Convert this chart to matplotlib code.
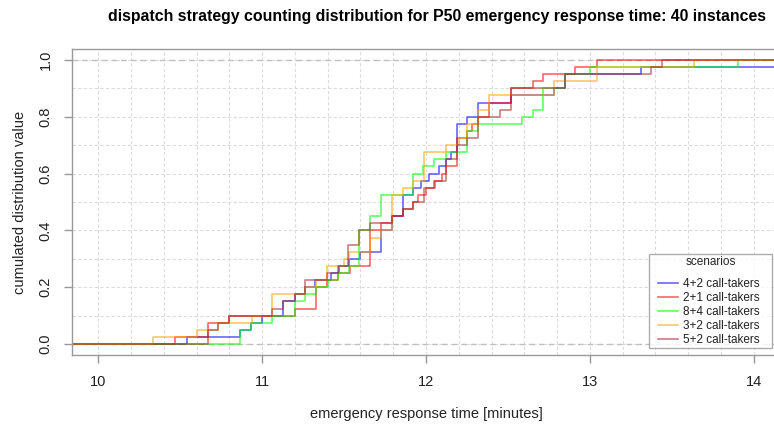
import numpy as np
import matplotlib.pyplot as plt
from matplotlib.legend_handler import HandlerLine2D
from matplotlib.lines import Line2D

plt.rcParams['font.family'] = ['Liberation Sans', 'DejaVu Sans']

########## P50 response times per instance (minutes) ##########

scenarios = ['4+2 call-takers', '2+1 call-takers', '8+4 call-takers',
             '3+2 call-takers', '5+2 call-takers']
colors = ['#0000ff', '#ff0000', '#00ff00', '#ffa500', '#a52a2a']

p50_4_2 = [10.54, 10.864, 10.935, 11.0, 11.128, 11.128, 11.2, 11.26, 11.32, 11.42,
           11.47, 11.53, 11.595, 11.727, 11.727, 11.727, 11.794, 11.794, 11.858, 11.858,
           11.858, 11.919, 11.97, 12.02, 12.08, 12.12, 12.15, 12.189, 12.189, 12.189,
           12.189, 12.25, 12.319, 12.319, 12.518, 12.78, 12.848, 12.848, 13.309, 14.3]
p50_2_1 = [10.47, 10.672, 10.672, 10.80, 11.2, 11.33, 11.33, 11.33, 11.395, 11.463,
           11.534, 11.656, 11.656, 11.656, 11.656, 11.656, 11.727, 11.79, 11.858, 11.92,
           11.95, 12.0, 12.05, 12.1, 12.12, 12.189, 12.189, 12.189, 12.189, 12.25,
           12.28, 12.319, 12.386, 12.386, 12.518, 12.518, 12.65, 12.716, 12.911, 13.044]
p50_8_4 = [10.864, 10.864, 10.935, 11.063, 11.2, 11.2, 11.26, 11.33, 11.4, 11.46,
           11.53, 11.59, 11.59, 11.59, 11.59, 11.59, 11.656, 11.656, 11.727, 11.727,
           11.727, 11.919, 11.919, 11.919, 11.98, 12.05, 12.12, 12.25, 12.25, 12.25,
           12.319, 12.583, 12.65, 12.716, 12.716, 12.716, 12.848, 12.848, 13.0, 13.903]
p50_3_2 = [10.337, 10.604, 10.73, 10.94, 11.063, 11.063, 11.063, 11.26, 11.33, 11.395,
           11.395, 11.5, 11.53, 11.656, 11.656, 11.727, 11.79, 11.79, 11.79, 11.79,
           11.79, 11.858, 11.919, 11.987, 11.987, 11.987, 11.987, 12.12, 12.2, 12.25,
           12.25, 12.319, 12.319, 12.386, 12.386, 12.78, 12.78, 13.044, 13.044, 13.638]
p50_5_2 = [10.672, 10.672, 10.73, 10.80, 11.063, 11.128, 11.2, 11.26, 11.26, 11.395,
           11.46, 11.524, 11.524, 11.524, 11.59, 11.59, 11.656, 11.79, 11.858, 11.919,
           11.987, 11.987, 12.054, 12.12, 12.12, 12.12, 12.189, 12.189, 12.25, 12.319,
           12.319, 12.319, 12.45, 12.518, 12.518, 12.518, 12.848, 12.848, 13.374, 13.44]

series = [p50_4_2, p50_2_1, p50_8_4, p50_3_2, p50_5_2]

xlim = (9.84, 14.16)
ylim = (-0.04, 1.04)

############ figure ############

fig = plt.figure(figsize=(7.74, 4.26), dpi=100)
ax = fig.add_axes([72 / 774, 1 - 355.4 / 426, 708 / 774, 306.8 / 426])

# background grid
for gx in np.arange(9.8, 14.4, 0.2):
    ax.axvline(gx, color='#dcdcdc', lw=0.8, ls=(0, (3, 2)), zorder=0)
for gy in np.arange(0, 1.01, 0.1):
    ax.axhline(gy, color='#dcdcdc', lw=0.8, ls=(0, (3, 2)), zorder=0)
ax.axhline(0, color='#c0c0c0', lw=1.0, ls=(0, (4, 3)), zorder=1)
ax.axhline(1, color='#c0c0c0', lw=1.0, ls=(0, (4, 3)), zorder=1)

# empirical cdf per scenario
for vals, col, lab in zip(series, colors, scenarios):
    v = np.sort(np.array(vals))
    n = len(v)
    xs = np.concatenate([[xlim[0] - 1], v, [xlim[1] + 1]])
    ys = np.concatenate([[0], np.arange(1, n + 1) / n, [1]])
    ax.plot(xs, ys, drawstyle='steps-post', color=col, alpha=0.6, lw=1.2)

ax.set_xlim(*xlim)
ax.set_ylim(*ylim)

for s in ax.spines.values():
    s.set_color('#999999')
    s.set_linewidth(1.0)

ax.set_xticks([10, 11, 12, 13, 14])
ax.set_yticks([0, 0.2, 0.4, 0.6, 0.8, 1.0])
ax.set_yticklabels(['0.0', '0.2', '0.4', '0.6', '0.8', '1.0'], rotation=90, va='center')
ax.tick_params(axis='both', colors='#999999', labelcolor='#222222', labelsize=10.5,
               length=6, width=1.0)
ax.tick_params(axis='x', pad=8)
ax.tick_params(axis='y', pad=8)

ax.set_xlabel('emergency response time [minutes]', fontsize=10.5, color='#222222', labelpad=13)
ax.set_ylabel('cumulated distribution value', fontsize=10.5, color='#222222', labelpad=8.5)
fig.suptitle('dispatch strategy counting distribution for P50 emergency response time: 40 instances',
             x=437 / 774, y=1 - 17 / 426, va='center', fontsize=11.4,
             fontweight='bold')

# legend
handles = [Line2D([], [], color=c, alpha=0.6, lw=1.2) for c in colors]
labels = [s + '   ' for s in scenarios]
leg = ax.legend(handles, labels, loc='lower right', title='scenarios', fontsize=8.5,
                title_fontsize=8.5, frameon=True, fancybox=False, borderpad=0.2,
                handlelength=2.25, handletextpad=0.42, labelspacing=0.16,
                borderaxespad=0, bbox_to_anchor=(700 / 708, 7.4 / 306.8),
                handler_map={Line2D: HandlerLine2D(xpad=0.55)})
leg._legend_box.sep = 7.0
leg.get_frame().set_edgecolor('#999999')
leg.get_frame().set_linewidth(1.0)
leg.get_title().set_color('#222222')
for t in leg.get_texts():
    t.set_color('#222222')

plt.savefig('out.png', dpi=100)
